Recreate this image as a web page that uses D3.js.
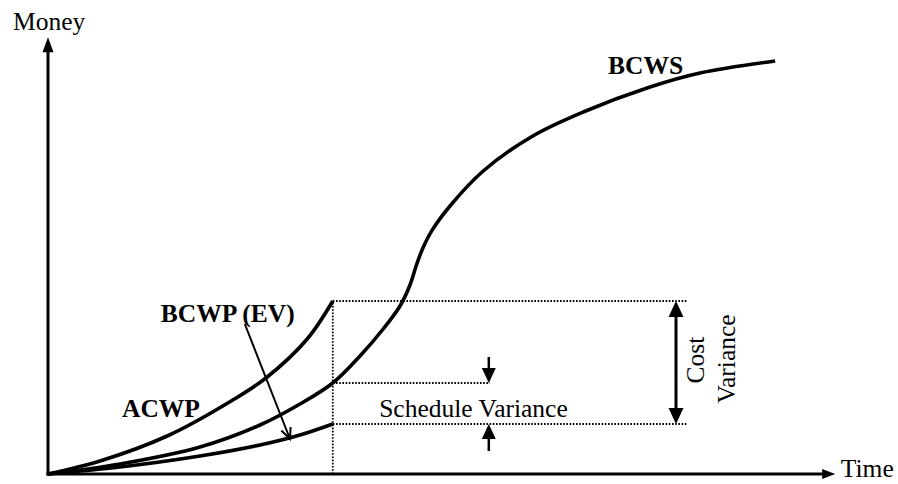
<!DOCTYPE html>
<html>
<head>
<meta charset="utf-8">
<script src="https://cdn.jsdelivr.net/npm/d3@7"></script>
<style>
  body { margin: 0; background: #fff; }
</style>
</head>
<body>
<div id="chart"></div>
<script>
// curve data: time / money in arbitrary units
const acwpT = [0, 6.5, 14.9, 23.1, 27.4, 32.4, 35.6];
const acwpM = [0, 3.25, 9.5, 18.5, 24.25, 33.75, 43.25];

const bcwsT = [0, 9, 19, 26.5, 31.5, 35.6, 39, 42, 44, 45.2, 46.1, 46.9, 48, 50.25, 54.4, 60.6, 66.9, 75.25, 81.5, 90.9];
const bcwsM = [0, 2.5, 6.75, 12.25, 17.5, 22.75, 29.5, 36.5, 42, 47, 52.5, 56.7, 60.9, 67, 75.75, 84.5, 90.5, 96.75, 100.25, 103.25];

const bcwpT = [0, 9, 19, 26.5, 31.5, 35.6];
const bcwpM = [0, 1.75, 4.5, 7.25, 9.75, 12.5];

// status date and the variance levels
const statusT = 35.6;
const acwpNow = 43.25, bcwsNow = 22.75, bcwpNow = 12.5;
const costGuideEnd = 80, schedGuideEnd = 55.25;
const schedArrowT = 55.1, costArrowT = 78.5;

const width = 898, height = 484;
const serif = '"Liberation Serif", "Times New Roman", Tinos, Times, "DejaVu Serif", serif';

const x = d3.scaleLinear().domain([0, 100]).range([48, 848]);
const y = d3.scaleLinear().domain([0, 110]).range([474, 34]);

const svg = d3.select("#chart").append("svg")
    .attr("width", width)
    .attr("height", height)
    .attr("font-family", serif)
    .attr("font-size", 25.5);

const zip = (t, m) => t.map((d, i) => [d, m[i]]);
const line = d3.line()
    .x(d => x(d[0]))
    .y(d => y(d[1]))
    .curve(d3.curveCatmullRom.alpha(0.5));

// dotted guides
const guides = [
  [[statusT, 0], [statusT, acwpNow]],
  [[statusT, acwpNow], [costGuideEnd, acwpNow]],
  [[statusT, bcwsNow], [schedGuideEnd, bcwsNow]],
  [[statusT, bcwpNow], [costGuideEnd, bcwpNow]]
];
svg.selectAll(".guide").data(guides).enter().append("line")
    .attr("class", "guide")
    .attr("x1", d => x(d[0][0])).attr("y1", d => y(d[0][1]))
    .attr("x2", d => x(d[1][0])).attr("y2", d => y(d[1][1]))
    .attr("stroke", "#000")
    .attr("stroke-width", 1.8)
    .attr("stroke-dasharray", "1.6,1.6");

// curves
[zip(acwpT, acwpM), zip(bcwsT, bcwsM), zip(bcwpT, bcwpM)].forEach(pts => {
  svg.append("path")
      .attr("d", line(pts))
      .attr("fill", "none")
      .attr("stroke", "#000")
      .attr("stroke-width", 3.6);
});

// filled arrow head, tip at (px,py), pointing in direction (dx,dy)
function head(px, py, dx, dy, len, half) {
  const n = Math.hypot(dx, dy), ux = dx / n, uy = dy / n;
  const bx = px - ux * len, by = py - uy * len;
  return `M${px},${py}L${bx - uy * half},${by + ux * half}L${bx + uy * half},${by - ux * half}Z`;
}

// axes
const x0 = x(0), y0 = y(0), xEnd = x(98.4), yEnd = y(109.2);
svg.append("line").attr("x1", x0).attr("y1", y0 + 1.5).attr("x2", x0).attr("y2", yEnd + 12)
    .attr("stroke", "#000").attr("stroke-width", 3);
svg.append("line").attr("x1", x0 - 1.5).attr("y1", y0).attr("x2", xEnd - 10).attr("y2", y0)
    .attr("stroke", "#000").attr("stroke-width", 3);
svg.append("path").attr("d", head(x0, yEnd, 0, -1, 15, 5.5));
svg.append("path").attr("d", head(xEnd, y0, 1, 0, 13, 5));

// schedule variance arrows
const sx = x(schedArrowT);
svg.append("line").attr("x1", sx).attr("y1", y(29.25)).attr("x2", sx).attr("y2", y(bcwsNow) - 10)
    .attr("stroke", "#000").attr("stroke-width", 2.5);
svg.append("path").attr("d", head(sx, y(bcwsNow), 0, 1, 15, 7));
svg.append("line").attr("x1", sx).attr("y1", y(5.75)).attr("x2", sx).attr("y2", y(bcwpNow) + 10)
    .attr("stroke", "#000").attr("stroke-width", 2.5);
svg.append("path").attr("d", head(sx, y(bcwpNow), 0, -1, 15, 7));

// cost variance double arrow
const cx = x(costArrowT);
svg.append("line").attr("x1", cx).attr("y1", y(acwpNow) + 10).attr("x2", cx).attr("y2", y(bcwpNow) - 10)
    .attr("stroke", "#000").attr("stroke-width", 3);
svg.append("path").attr("d", head(cx, y(acwpNow), 0, -1, 16, 7.5));
svg.append("path").attr("d", head(cx, y(bcwpNow), 0, 1, 16, 7.5));

// BCWP (EV) pointer
const p1 = [x(24.6), y(37.5)], p2 = [x(30.25), y(8.75)];
svg.append("line").attr("x1", p1[0]).attr("y1", p1[1]).attr("x2", p2[0]).attr("y2", p2[1])
    .attr("stroke", "#000").attr("stroke-width", 2);
{
  const dx = p2[0] - p1[0], dy = p2[1] - p1[1], n = Math.hypot(dx, dy);
  const ux = dx / n, uy = dy / n, len = 11, half = 5;
  const bx = p2[0] - ux * len, by = p2[1] - uy * len;
  svg.append("path")
      .attr("d", `M${bx - uy * half},${by + ux * half}L${p2[0]},${p2[1]}L${bx + uy * half},${by - ux * half}`)
      .attr("fill", "none").attr("stroke", "#000").attr("stroke-width", 2);
}

// labels
const labels = [
  { text: "Money", t: -4.375, m: 111, bold: false },
  { text: "Time", t: 99.1, m: -0.75, bold: false },
  { text: "BCWS", t: 70, m: 100, bold: true },
  { text: "BCWP (EV)", t: 14.1, m: 38, bold: true },
  { text: "ACWP", t: 9.25, m: 14.25, bold: true },
  { text: "Schedule Variance", t: 41.4, m: 14.25, bold: false }
];
svg.selectAll(".lbl").data(labels).enter().append("text")
    .attr("class", "lbl")
    .attr("x", d => x(d.t))
    .attr("y", d => y(d.m))
    .attr("font-weight", d => d.bold ? "bold" : "normal")
    .text(d => d.text);

const vlabels = [
  { text: "Cost", t: 82, m: 28.5 },
  { text: "Variance", t: 85.9, m: 28.75 }
];
svg.selectAll(".vlbl").data(vlabels).enter().append("text")
    .attr("class", "vlbl")
    .attr("text-anchor", "middle")
    .attr("transform", d => `translate(${x(d.t)},${y(d.m)}) rotate(-90)`)
    .text(d => d.text);
</script>
</body>
</html>
